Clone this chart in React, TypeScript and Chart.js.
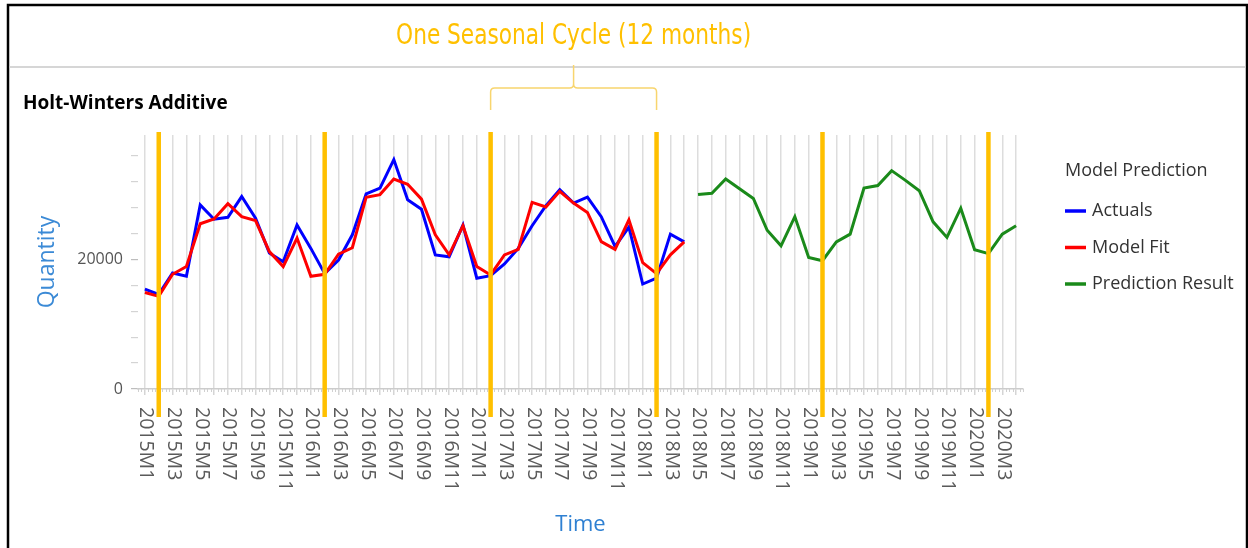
import React, { useEffect, useRef } from "react";
import { Chart, registerables } from "chart.js";

Chart.register(...registerables);

// ---------- data ----------
const months: string[] = [
  "2015M1", "2015M2", "2015M3", "2015M4", "2015M5", "2015M6", "2015M7", "2015M8", "2015M9", "2015M10", "2015M11", "2015M12",
  "2016M1", "2016M2", "2016M3", "2016M4", "2016M5", "2016M6", "2016M7", "2016M8", "2016M9", "2016M10", "2016M11", "2016M12",
  "2017M1", "2017M2", "2017M3", "2017M4", "2017M5", "2017M6", "2017M7", "2017M8", "2017M9", "2017M10", "2017M11", "2017M12",
  "2018M1", "2018M2", "2018M3", "2018M4", "2018M5", "2018M6", "2018M7", "2018M8", "2018M9", "2018M10", "2018M11", "2018M12",
  "2019M1", "2019M2", "2019M3", "2019M4", "2019M5", "2019M6", "2019M7", "2019M8", "2019M9", "2019M10", "2019M11", "2019M12",
  "2020M1", "2020M2", "2020M3", "2020M4",
];

// 2015M1 .. 2018M4
const actuals: number[] = [
  15400, 14600, 17900, 17400, 28400, 26200, 26500, 29700, 26350, 21000, 19640, 25300,
  21700, 17800, 19900, 23800, 30100, 31000, 35400, 29200, 27750, 20700, 20400, 25300,
  17100, 17500, 19300, 21700, 25200, 28300, 30750, 28700, 29600, 26600, 22000, 25000,
  16200, 17100, 23900, 22700,
];

// 2015M1 .. 2018M4
const modelFit: number[] = [
  14900, 14300, 17700, 18900, 25500, 26250, 28600, 26600, 26000, 21200, 18900, 23300,
  17400, 17700, 20800, 21800, 29600, 30000, 32400, 31600, 29300, 23800, 20700, 25200,
  18900, 17600, 20700, 21550, 28800, 28100, 30500, 28700, 27250, 22750, 21550, 26100,
  19500, 17800, 20700, 22700,
];

// 2018M5 .. 2020M4
const predictionStart = "2018M5";
const prediction: number[] = [
  30000, 30200, 32400, 30900, 29400, 24500, 22100, 26600,
  20300, 19800, 22700, 23900, 31000, 31400, 33700, 32200, 30600, 25800, 23400, 27900,
  21500, 20900, 23900, 25200,
];

const yTickValues: number[] = [0, 4000, 8000, 12000, 16000, 20000, 24000, 28000, 32000, 36000];
const yLabelValues: number[] = [0, 20000];
const cycleMarkers: string[] = ["2015M2", "2016M2", "2017M2", "2018M2", "2019M2", "2020M2"];
const braceFrom = "2017M2";
const braceTo = "2018M2";
const headerText = "One Seasonal Cycle (12 months)";
const chartTitle = "Holt-Winters Additive";
const legendTitle = "Model Prediction";
const seriesNames: string[] = ["Actuals", "Model Fit", "Prediction Result"];
const seriesColors: string[] = ["#0000FF", "#FF0000", "#1A8A1A"];

const FONT = '"Open Sans", "Noto Sans", sans-serif';

const decorPlugin = {
  id: "decor",
  beforeDraw(chart: any) {
    const ctx = chart.ctx;
    ctx.save();
    ctx.fillStyle = "#ffffff";
    ctx.fillRect(0, 0, chart.width, chart.height);
    ctx.restore();
  },
  afterDatasetsDraw(chart: any) {
    const ctx = chart.ctx;
    const xs = chart.scales.x;
    const area = chart.chartArea;
    ctx.save();
    ctx.strokeStyle = "#FFC000";
    ctx.lineWidth = 4.5;
    cycleMarkers.forEach((m) => {
      const px = xs.getPixelForValue(months.indexOf(m));
      ctx.beginPath();
      ctx.moveTo(px, area.top - 3);
      ctx.lineTo(px, area.bottom + 28);
      ctx.stroke();
    });
    ctx.restore();
  },
  afterDraw(chart: any) {
    const ctx = chart.ctx;
    const xs = chart.scales.x;
    const area = chart.chartArea;
    ctx.save();

    // frame
    ctx.strokeStyle = "#000000";
    ctx.lineWidth = 2.5;
    ctx.strokeRect(8, 5, 1239, 700);

    // separator
    ctx.strokeStyle = "#c8c8c8";
    ctx.lineWidth = 1.5;
    ctx.beginPath();
    ctx.moveTo(9, 67);
    ctx.lineTo(1246, 67);
    ctx.stroke();

    // brace + header
    const L = xs.getPixelForValue(months.indexOf(braceFrom));
    const R = xs.getPixelForValue(months.indexOf(braceTo));
    const M = (L + R) / 2;
    ctx.strokeStyle = "#F8D56E";
    ctx.lineWidth = 1.5;
    ctx.beginPath();
    ctx.moveTo(L, 110);
    ctx.lineTo(L, 92);
    ctx.quadraticCurveTo(L, 88, L + 4, 88);
    ctx.lineTo(M - 4, 88);
    ctx.quadraticCurveTo(M, 88, M, 84);
    ctx.lineTo(M, 65);
    ctx.moveTo(M, 84);
    ctx.quadraticCurveTo(M, 88, M + 4, 88);
    ctx.lineTo(R - 4, 88);
    ctx.quadraticCurveTo(R, 88, R, 92);
    ctx.lineTo(R, 110);
    ctx.stroke();

    ctx.fillStyle = "#FFC000";
    ctx.font = '28px "DejaVu Sans Condensed", "DejaVu Sans", sans-serif';
    ctx.textAlign = "center";
    ctx.textBaseline = "middle";
    const hw = ctx.measureText(headerText).width;
    ctx.save();
    ctx.translate(M, 37);
    ctx.scale(355 / hw, 1);
    ctx.fillText(headerText, 0, 0);
    ctx.restore();

    // chart title
    ctx.fillStyle = "#000000";
    ctx.font = "bold 19px " + FONT;
    ctx.textAlign = "left";
    ctx.textBaseline = "middle";
    ctx.fillText(chartTitle, 23, 104);

    // minor ticks on x axis
    ctx.strokeStyle = "#d0d0d0";
    ctx.lineWidth = 1;
    const step = xs.getPixelForValue(1) - xs.getPixelForValue(0);
    for (let i = -1; i < months.length; i++) {
      const base = xs.getPixelForValue(0) + i * step;
      for (let k = 1; k < 4; k++) {
        const px = base + (k * step) / 4;
        if (px < area.left || px > area.right) continue;
        ctx.beginPath();
        ctx.moveTo(Math.round(px) + 0.5, area.bottom);
        ctx.lineTo(Math.round(px) + 0.5, area.bottom + 3);
        ctx.stroke();
      }
    }

    // x tick labels (rotated clockwise)
    ctx.fillStyle = "#5a5a5a";
    ctx.font = "19.5px " + FONT;
    ctx.textAlign = "left";
    ctx.textBaseline = "middle";
    months.forEach((m, i) => {
      if (i % 2 !== 0) return;
      const px = xs.getPixelForValue(i);
      ctx.save();
      ctx.translate(px + 1, area.bottom + 18);
      ctx.rotate(Math.PI / 2);
      ctx.fillText(m, 0, 0);
      ctx.restore();
    });

    // legend
    ctx.fillStyle = "#333333";
    ctx.font = "18px " + FONT;
    ctx.textAlign = "left";
    ctx.textBaseline = "middle";
    ctx.fillText(legendTitle, 1065, 171);
    chart.data.datasets.forEach((ds: any, i: number) => {
      const y = 211 + i * 36.5;
      ctx.strokeStyle = ds.borderColor;
      ctx.lineWidth = 3.5;
      ctx.beginPath();
      ctx.moveTo(1065, y);
      ctx.lineTo(1086, y);
      ctx.stroke();
      ctx.fillStyle = "#333333";
      ctx.fillText(ds.label, 1092, y);
    });

    ctx.restore();
  },
};

export default function App() {
  const ref = useRef<HTMLCanvasElement | null>(null);

  useEffect(() => {
    if (!ref.current) return;
    const predIdx = months.indexOf(predictionStart);
    const actualData = months.map((_, i) => (i < actuals.length ? actuals[i] : null));
    const fitData = months.map((_, i) => (i < modelFit.length ? modelFit[i] : null));
    const predData = months.map((_, i) => (i >= predIdx ? prediction[i - predIdx] : null));

    const chart = new Chart(ref.current, {
      type: "line",
      data: {
        labels: months,
        datasets: [
          { label: seriesNames[0], data: actualData, borderColor: seriesColors[0], backgroundColor: seriesColors[0], order: 2 },
          { label: seriesNames[1], data: fitData, borderColor: seriesColors[1], backgroundColor: seriesColors[1], order: 1 },
          { label: seriesNames[2], data: predData, borderColor: seriesColors[2], backgroundColor: seriesColors[2], order: 0 },
        ],
      },
      options: {
        animation: false,
        responsive: false,
        maintainAspectRatio: false,
        layout: { padding: { left: 0, top: 135, right: 225, bottom: 0 } },
        elements: {
          point: { radius: 0, hoverRadius: 0 },
          line: { borderWidth: 3, tension: 0 },
        },
        plugins: {
          legend: { display: false },
          tooltip: { enabled: false },
          title: { display: false },
        },
        scales: {
          x: {
            type: "category",
            offset: true,
            grid: { color: "#dddddd", lineWidth: 1.5, tickLength: 6, tickColor: "#d5d5d5" },
            border: { display: true, color: "#cccccc", width: 1.5 },
            ticks: { display: false },
            title: {
              display: true,
              text: "Time",
              color: "#2f80d2",
              font: { family: FONT, size: 22 },
              padding: { top: 0, bottom: 10 },
            },
            afterFit: (s: any) => {
              s.height = 159;
            },
          },
          y: {
            type: "linear",
            min: 0,
            max: 39200,
            grid: {
              drawOnChartArea: false,
              drawTicks: true,
              tickLength: 7,
              color: "#c4c4c4",
              tickColor: (c: any) => (c.tick && yLabelValues.indexOf(c.tick.value) >= 0 ? "#bdbdbd" : "#d4d4d4"),
              lineWidth: 1.2,
            },
            border: { display: false },
            ticks: {
              padding: 8,
              autoSkip: false,
              color: "#555555",
              font: { family: FONT, size: 16 },
              callback: (v: any) => (yLabelValues.indexOf(Number(v)) >= 0 ? String(v) : " "),
            },
            afterBuildTicks: (s: any) => {
              s.ticks = yTickValues.map((v) => ({ value: v }));
            },
            title: {
              display: true,
              text: "Quantity",
              color: "#3b8ad6",
              font: { family: FONT, size: 23 },
              padding: { top: 34, bottom: 0 },
            },
            afterFit: (s: any) => {
              s.width = 138;
            },
          },
        },
      },
      plugins: [decorPlugin],
    } as any);

    return () => chart.destroy();
  }, []);

  return (
    <div style={{ position: "fixed", left: 0, top: 0, width: 1248, height: 548, background: "#fff" }}>
      <canvas ref={ref} width={1248} height={548} style={{ width: 1248, height: 548, display: "block" }} />
    </div>
  );
}
